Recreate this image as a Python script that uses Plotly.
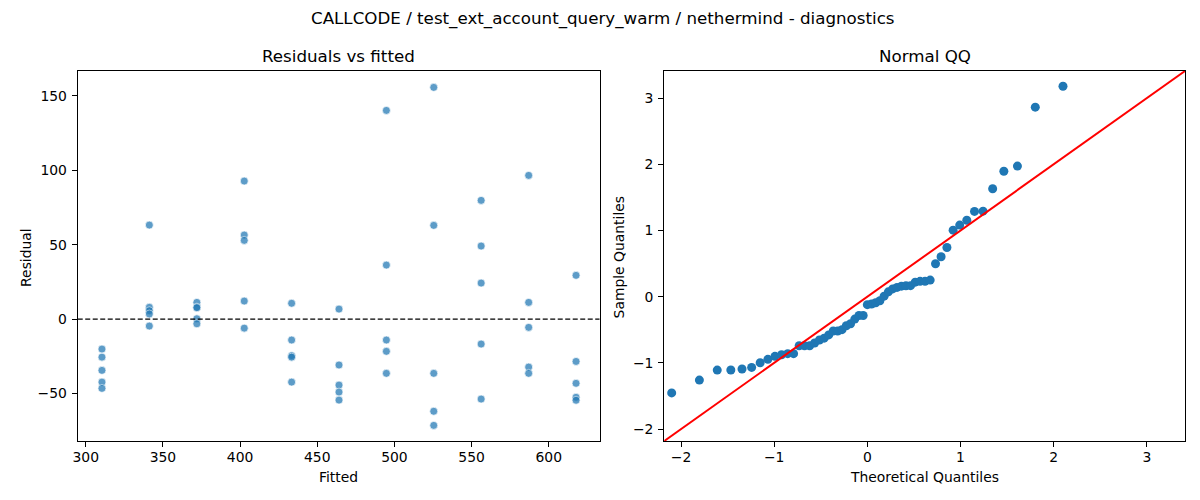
import numpy as np
import plotly.graph_objects as go
from statistics import NormalDist

# ---------------- data ----------------
fitted = [
    310.5, 310.5, 310.5, 310.5, 310.5,
    341.2, 341.2, 341.2, 341.2, 341.2,
    372.0, 372.0, 372.0, 372.0, 372.0,
    402.7, 402.7, 402.7, 402.7, 402.7,
    433.4, 433.4, 433.4, 433.4, 433.4,
    464.1, 464.1, 464.1, 464.1, 464.1,
    494.8, 494.8, 494.8, 494.8, 494.8,
    525.5, 525.5, 525.5, 525.5, 525.5,
    556.2, 556.2, 556.2, 556.2, 556.2,
    587.0, 587.0, 587.0, 587.0, 587.0,
    617.7, 617.7, 617.7, 617.7, 617.7,
]
residuals = [
    -20.2, -25.6, -34.5, -42.4, -46.6,
    63.2, 7.9, 5.6, 3.4, -4.7,
    11.2, 8.0, 7.6, 0.2, -3.2,
    92.8, 56.5, 52.9, 12.1, -6.1,
    10.6, -14.1, -24.6, -25.6, -42.4,
    6.7, -30.9, -44.4, -49.1, -54.5,
    140.3, 36.3, -14.1, -21.7, -36.5,
    155.8, 63.0, -36.5, -62.0, -71.5,
    79.8, 49.1, 24.2, -16.8, -53.8,
    96.6, 11.2, -5.6, -32.3, -36.5,
    29.4, -28.5, -43.2, -52.6, -54.6,
]
fitted_ticks = [300, 350, 400, 450, 500, 550, 600]
resid_ticks = [-50, 0, 50, 100, 150]
qq_ticks = [-2, -1, 0, 1, 2, 3]

suptitle = "CALLCODE / test_ext_account_query_warm / nethermind - diagnostics"
left_title = "Residuals vs fitted"
right_title = "Normal QQ"

# ---------------- derived QQ values ----------------
r = np.array(residuals, dtype=float)
n = len(r)
nd = NormalDist()
theoretical = [nd.inv_cdf(i / (n + 1)) for i in range(1, n + 1)]
sample = np.sort((r - r.mean()) / r.std())

# ---------------- layout constants ----------------
OFF = 8                      # page body margin
W, H = 1200 - 2 * OFF, 500 - 2 * OFF

def px(x):
    return (x - OFF) / W

def py(y):
    return 1 - (y - OFF) / H

FONT = "DejaVu Sans"
TICK_SIZE = 13.9
TITLE_SIZE = 16.7
left_dom = [px(73), px(597)]
right_dom = [px(662), px(1185)]
y_dom = [py(441), py(71)]
fit_range = [294.8, 632.9]
res_range = [-82.0, 166.8]
qq_range = [-2.18, 3.41]

BLUE = "#1f77b4"

fig = go.Figure()

fig.add_trace(go.Scatter(
    x=fitted, y=residuals, mode="markers",
    marker=dict(color=BLUE, size=8, opacity=0.72,
                line=dict(color="white", width=0.7)),
    xaxis="x", yaxis="y", showlegend=False, hoverinfo="x+y",
))

fig.add_trace(go.Scatter(
    x=theoretical, y=sample, mode="markers",
    marker=dict(color=BLUE, size=9, line=dict(width=0)),
    xaxis="x2", yaxis="y2", showlegend=False,
))

fig.add_trace(go.Scatter(
    x=qq_range, y=qq_range, mode="lines",
    line=dict(color="#ff0000", width=2),
    xaxis="x2", yaxis="y2", showlegend=False, hoverinfo="skip",
))

# dashed zero line
fig.add_shape(type="line", xref="x domain", yref="y",
              x0=0, x1=1, y0=0, y1=0,
              line=dict(color="black", width=1.3, dash="5px,2.5px"))

axis_common = dict(
    showline=True, mirror=True, linecolor="black", linewidth=1.1,
    ticks="outside", ticklen=5, tickwidth=1.1, tickcolor="black",
    showgrid=False, zeroline=False,
    tickfont=dict(family=FONT, size=TICK_SIZE, color="black"),
)

fig.update_layout(
    width=W, height=H,
    margin=dict(l=0, r=0, t=0, b=0),
    paper_bgcolor="white", plot_bgcolor="white",
    font=dict(family=FONT, color="black"),
    xaxis=dict(domain=left_dom, range=fit_range, tickvals=fitted_ticks,
               anchor="y", ticklabelstandoff=-2, **axis_common),
    yaxis=dict(domain=y_dom, range=res_range, tickvals=resid_ticks,
               anchor="x", ticklabelstandoff=2, **axis_common),
    xaxis2=dict(domain=right_dom, range=qq_range, tickvals=qq_ticks,
                anchor="y2", ticklabelstandoff=-2, **axis_common),
    yaxis2=dict(domain=y_dom, range=qq_range, tickvals=qq_ticks,
                anchor="x2", ticklabelstandoff=2, **axis_common),
)

def ann(text, x, y, size, angle=0):
    fig.add_annotation(text=text, x=px(x), y=py(y), xref="paper", yref="paper",
                       xanchor="center", yanchor="middle", showarrow=False,
                       textangle=angle,
                       font=dict(family=FONT, size=size, color="black"))

ann(suptitle, 600, 18, TITLE_SIZE)
ann(left_title, 335, 56, TITLE_SIZE)
ann(right_title, 923.5, 56, TITLE_SIZE)
ann("Fitted", 335, 477, TICK_SIZE)
ann("Theoretical Quantiles", 923.5, 477, TICK_SIZE)
ann("Residual", 21, 257, TICK_SIZE, -90)
ann("Sample Quantiles", 617, 257, TICK_SIZE, -90)

fig.write_html("out.html")
